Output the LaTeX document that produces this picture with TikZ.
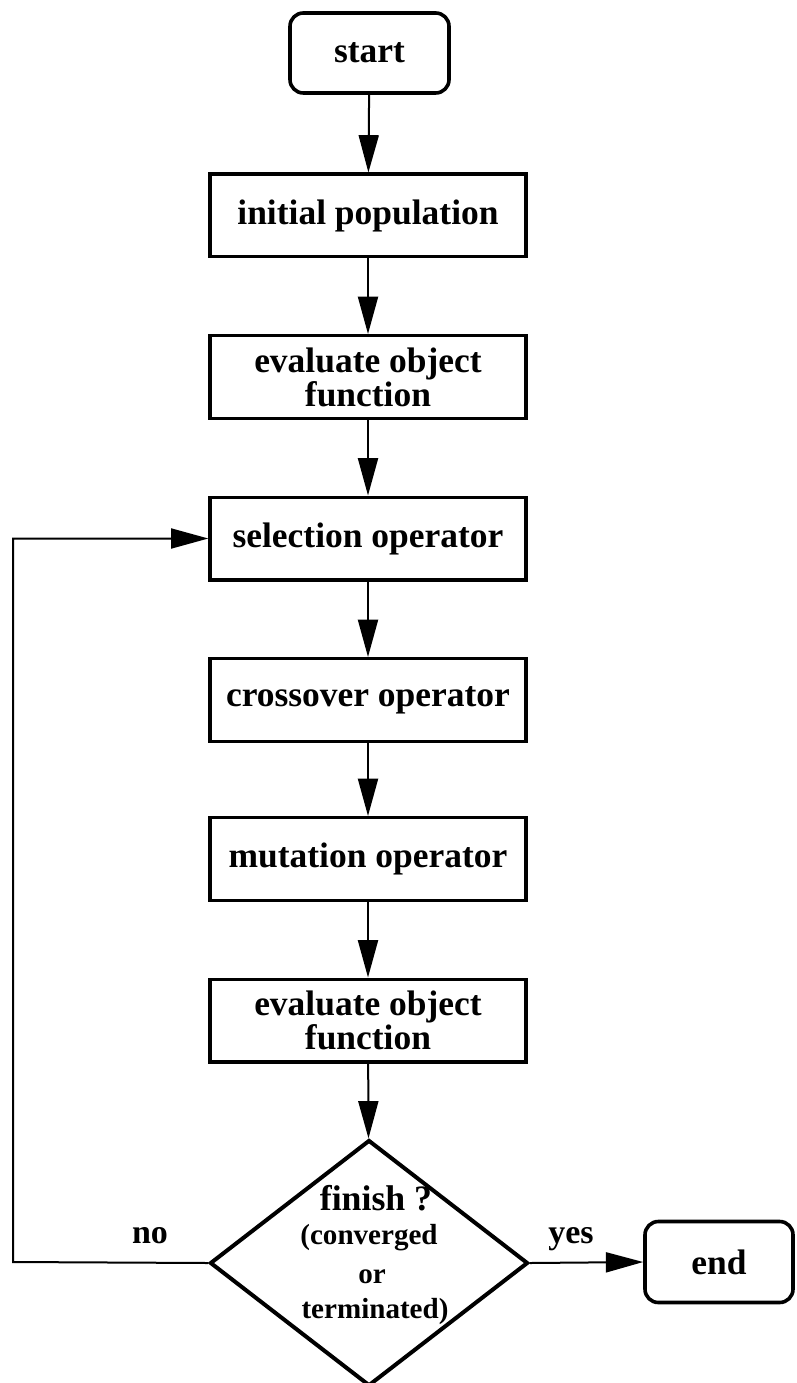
\documentclass[tikz,border=0pt]{standalone}
\usepackage{fontspec}
\setmainfont{Liberation Serif}
\usetikzlibrary{shapes.geometric,arrows.meta}
\begin{document}
\begin{tikzpicture}[x=0.75pt,y=-0.75pt,
  boxfont/.style={font=\bfseries\fontsize{26.6}{18.75}\selectfont},
  procbox/.style={draw, line width=2.5pt, minimum width=237pt, minimum height=62pt, inner sep=0pt, align=center, boxfont},
  termbox/.style={draw, line width=2.7pt, rounded corners=10pt, inner sep=0pt, align=center, boxfont},
  decbox/.style={draw, shape=diamond, line width=3pt, minimum width=238.5pt, minimum height=184.5pt, inner sep=0pt},
  flow/.style={line width=1.5pt, -{Triangle[length=28pt,width=15pt]}},
  lbl/.style={font=\bfseries\fontsize{25.5}{30}\selectfont, inner sep=0pt, anchor=base},
  bigq/.style={font=\bfseries\fontsize{26.8}{30}\selectfont, inner sep=0pt, anchor=base},
  small/.style={font=\bfseries\fontsize{21.8}{26}\selectfont, inner sep=0pt, anchor=base}
]
\fill[white] (0,0) rectangle (796,1383);
\useasboundingbox (0,0) rectangle (796,1383);

\node[termbox, minimum width=119.25pt, minimum height=60pt] (start) at (369.5,53) {start};
\node[procbox] (init) at (368,215.5) {initial population};
\node[procbox] (eval1) at (368,377) {evaluate object\\function};
\node[procbox] (sel) at (368,538.5) {selection operator};
\node[procbox] (cross) at (368,700) {crossover operator};
\node[procbox] (mut) at (368,859) {mutation operator};
\node[procbox] (eval2) at (368,1020.5) {evaluate object\\function};
\node[decbox] (dec) at (369,1263) {};
\node[termbox, minimum width=111pt, minimum height=60.75pt] (end) at (719,1262) {end};

\node[bigq] (dt1) at (376,1210) {finish ?};
\node[small] (dt2) at (369,1244) {(converged};
\node[small] (dt3) at (372,1283) {or};
\node[small] (dt4) at (375,1318) {terminated)};

\node[lbl] (no) at (150,1243) {no};
\node[lbl] (yes) at (571,1243) {yes};

\coordinate (loopc) at (13,1262);

\draw[flow] (start) -- (init);
\draw[flow] (init) -- (eval1);
\draw[flow] (eval1) -- (sel);
\draw[flow] (sel) -- (cross);
\draw[flow] (cross) -- (mut);
\draw[flow] (mut) -- (eval2);
\draw[flow] (eval2) -- (dec);
\draw[flow] (dec.east) -- (end.west);
\draw[flow] (dec.west) -- (loopc) |- (sel.west);
\end{tikzpicture}
\end{document}
